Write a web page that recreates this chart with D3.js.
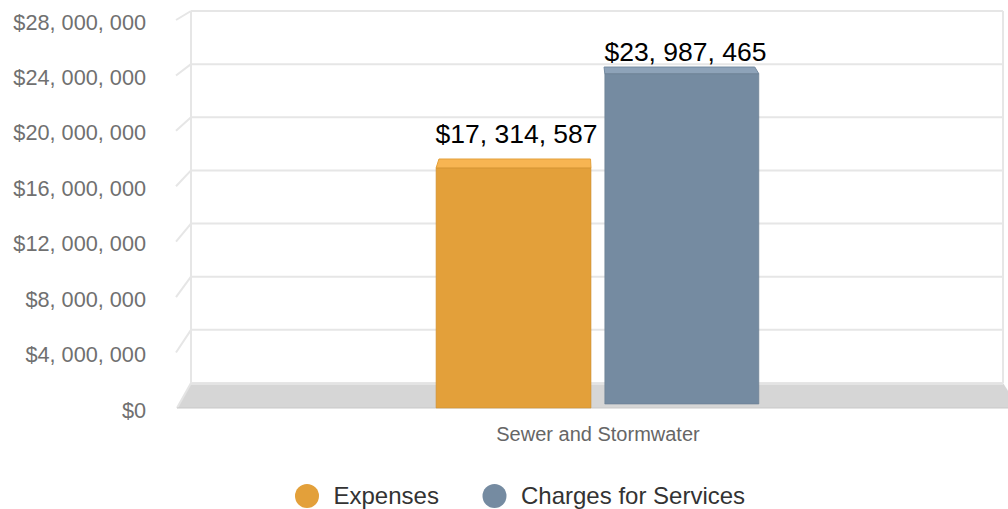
<html>
<head>
<script src="https://cdn.jsdelivr.net/npm/d3@7"></script>
<style>
  body { margin: 0; background: #fff; }
  text { font-family: "Liberation Sans", Arial, sans-serif; }
</style>
</head>
<body>
<div id="chartholder"></div>
<script>
var categories = ['Sewer and Stormwater'];
var seriesNames = ['Expenses', 'Charges for Services'];
var seriesValues = [[17314587], [23987465]];
var seriesColors = ['#e3a03a', '#758ba1'];
var topColors = ['#f7b552', '#8ea3b9'];
var yTicks = [0, 4000000, 8000000, 12000000, 16000000, 20000000, 24000000, 28000000];

var width = 1008, height = 509;

var svg = d3.select('#chartholder').append('svg')
    .attr('width', width)
    .attr('height', height);

// front plane and back plane of the 3d box
var yFront = d3.scaleLinear().domain([0, 28000000]).range([408, 20]);
var yBack = d3.scaleLinear().domain([0, 28000000]).range([383, 11]);
var xToBack = d3.scaleLinear().domain([177, 1019]).range([191, 1003]);

function pt(x, v, t) {
    return [x + (xToBack(x) - x) * t, yFront(v) + (yBack(v) - yFront(v)) * t];
}

var xGroup = d3.scaleBand().domain(categories).range([177, 1019]).paddingOuter(0.8);
var xSeries = d3.scaleBand().domain(seriesNames).range([0, xGroup.bandwidth()]).paddingInner(0.083);

var fmt = function(v) { return '$' + d3.format(',')(v).replace(/,/g, ', '); };

// back wall gridlines
svg.append('g').selectAll('line').data(yTicks).enter().append('line')
    .attr('x1', 191).attr('x2', 1003)
    .attr('y1', function(d) { return yBack(d); })
    .attr('y2', function(d) { return yBack(d); })
    .attr('stroke', '#e6e6e6').attr('stroke-width', 2);

// left wall ticks (diagonals)
svg.append('g').selectAll('line').data(yTicks.slice(1)).enter().append('line')
    .attr('x1', 176).attr('x2', 191)
    .attr('y1', function(d) { return yFront(d); })
    .attr('y2', function(d) { return yBack(d); })
    .attr('stroke', '#e6e6e6').attr('stroke-width', 2);

svg.append('line').attr('x1', 191).attr('x2', 191).attr('y1', yBack(28000000)).attr('y2', yBack(0))
    .attr('stroke', '#e6e6e6').attr('stroke-width', 2);
svg.append('line').attr('x1', 1003).attr('x2', 1003).attr('y1', yBack(28000000)).attr('y2', yBack(0))
    .attr('stroke', '#e6e6e6').attr('stroke-width', 2);

// floor
var f1 = pt(177, 0, 0), f2 = pt(1019, 0, 0), f3 = pt(1019, 0, 1), f4 = pt(177, 0, 1);
svg.append('path')
    .attr('d', 'M' + [f1, f2, f3, f4].join('L') + 'Z')
    .attr('fill', '#d6d6d6');
svg.append('line').attr('x1', f4[0]).attr('x2', f3[0]).attr('y1', f4[1] + 1).attr('y2', f3[1] + 1)
    .attr('stroke', '#e4e4e4').attr('stroke-width', 2);
svg.append('line').attr('x1', f4[0]).attr('x2', f1[0]).attr('y1', f4[1]).attr('y2', f1[1])
    .attr('stroke', '#e4e4e4').attr('stroke-width', 2);
svg.append('line').attr('x1', f1[0]).attr('x2', f2[0]).attr('y1', f1[1]).attr('y2', f1[1])
    .attr('stroke', '#c9c9c9').attr('stroke-width', 1);

// bars: each series sits at its own depth
var depth = [[0, 0.6], [0.16, 0.76]];
var bars = [];
seriesNames.forEach(function(s, i) {
    categories.forEach(function(c, j) {
        bars.push({ s: i, v: seriesValues[i][j], x0: xGroup(c) + xSeries(s), x1: xGroup(c) + xSeries(s) + xSeries.bandwidth() });
    });
});

var barG = svg.append('g').selectAll('g').data(bars).enter().append('g');

barG.append('path')
    .attr('d', function(d) {
        var t0 = depth[d.s][0], t1 = depth[d.s][1];
        return 'M' + [pt(d.x0, d.v, t0), pt(d.x1, d.v, t0), pt(d.x1, d.v, t1), pt(d.x0, d.v, t1)].join('L') + 'Z';
    })
    .attr('fill', function(d) { return topColors[d.s]; })
    .attr('stroke', function(d) { return seriesColors[d.s]; })
    .attr('stroke-width', 1);

barG.append('path')
    .attr('d', function(d) {
        var t0 = depth[d.s][0];
        return 'M' + [pt(d.x0, 0, t0), pt(d.x1, 0, t0), pt(d.x1, d.v, t0), pt(d.x0, d.v, t0)].join('L') + 'Z';
    })
    .attr('fill', function(d) { return seriesColors[d.s]; })
    .attr('stroke', function(d) { return d3.color(seriesColors[d.s]).darker(0.3); })
    .attr('stroke-width', 0.6);

// value labels, kept inside the top of the plot
barG.append('text')
    .attr('x', function(d) { return (d.x0 + d.x1) / 2 + 3; })
    .attr('y', function(d) { return Math.max(61, pt(d.x0, d.v, depth[d.s][0])[1] - 25); })
    .attr('text-anchor', 'middle')
    .attr('font-size', '26.5px')
    .attr('fill', '#000')
    .text(function(d) { return fmt(d.v); });

// y axis labels
svg.append('g').selectAll('text').data(yTicks).enter().append('text')
    .attr('x', 146)
    .attr('y', function(d) { return yFront(d) + 2; })
    .attr('dy', '0.35em')
    .attr('text-anchor', 'end')
    .attr('font-size', '21.7px')
    .attr('fill', '#707070')
    .text(fmt);

// category label
svg.append('g').selectAll('text').data(categories).enter().append('text')
    .attr('x', function(d) { return xGroup(d) + xGroup.bandwidth() / 2; })
    .attr('y', 441)
    .attr('text-anchor', 'middle')
    .attr('font-size', '20px')
    .attr('fill', '#666')
    .text(function(d) { return d; });

// legend
var legendX = [307, 494.5];
var legend = svg.append('g').selectAll('g').data(seriesNames).enter().append('g')
    .attr('transform', function(d, i) { return 'translate(' + legendX[i] + ',496)'; });
legend.append('circle').attr('r', 12).attr('fill', function(d, i) { return seriesColors[i]; });
legend.append('text')
    .attr('x', 26.5).attr('dy', '0.35em')
    .attr('font-size', '24px')
    .attr('fill', '#333')
    .text(function(d) { return d; });
</script>
</body>
</html>
